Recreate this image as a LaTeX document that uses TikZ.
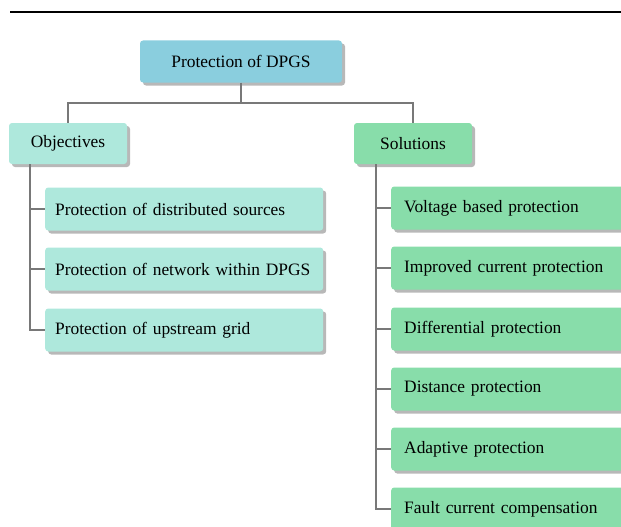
\documentclass[tikz,border=0pt]{standalone}
\usepackage{fontspec}
\setmainfont{Liberation Serif}
\usetikzlibrary{shadows}
\definecolor{rootc}{RGB}{138,206,222}
\definecolor{objc}{RGB}{174,232,220}
\definecolor{solc}{RGB}{136,221,170}
\definecolor{linec}{RGB}{120,120,120}
\begin{document}
\begin{tikzpicture}[x=1pt,y=-1pt,
  box/.style={rounded corners=3pt, inner ysep=0pt, font=\fontsize{17.4}{20}\selectfont,
    drop shadow={shadow xshift=3pt, shadow yshift=-3pt, fill=black!28, opacity=1}},
  headbox/.style={box, inner xsep=0pt, minimum height=41pt},
  objleaf/.style={box, fill=objc, anchor=west, minimum height=43pt, inner xsep=10pt, text width=258pt, align=left},
  solleaf/.style={box, fill=solc, anchor=west, minimum height=43pt, inner xsep=13pt, text width=234pt, align=left},
  conn/.style={draw=linec, line width=2pt}
]
\clip (0,0) rectangle (621,527);
\useasboundingbox (0,0) rectangle (621,527);
\draw[line width=1.1pt] (10,12) -- (621,12);

\node[headbox, fill=rootc, minimum width=202pt, minimum height=42pt] (root) at (241,61.5) {Protection of DPGS};
\node[headbox, fill=objc, minimum width=118pt] (obj) at (68,143.5) {Objectives};
\node[headbox, fill=solc, minimum width=118pt] (sol) at (413,143.5) {Solutions};

\node[objleaf] (o1) at (45,209) {Protection of distributed sources};
\node[objleaf] (o2) at (45,269) {Protection of network within DPGS};
\node[objleaf] (o3) at (45,330) {Protection of upstream grid};

\foreach \n/\y/\t in {s1/208/Voltage based protection, s2/268/Improved current protection, s3/329/Differential protection, s4/389/Distance protection, s5/449/Adaptive protection, s6/509/Fault current compensation}{
  \node[solleaf] (\n) at (391,\y) {\t};
}

\coordinate (j) at (241,103);
\draw[conn] (root.south) -- (j) -| (obj.north);
\draw[conn] (j) -| (sol.north);

\coordinate (ot) at (30,164);
\draw[conn] (ot) |- (o3.west);
\foreach \n in {o1,o2}{\draw[conn] (ot |- \n.west) -- (\n.west);}

\coordinate (st) at (376,164);
\draw[conn] (st) |- (s6.west);
\foreach \n in {s1,s2,s3,s4,s5}{\draw[conn] (st |- \n.west) -- (\n.west);}
\end{tikzpicture}
\end{document}
